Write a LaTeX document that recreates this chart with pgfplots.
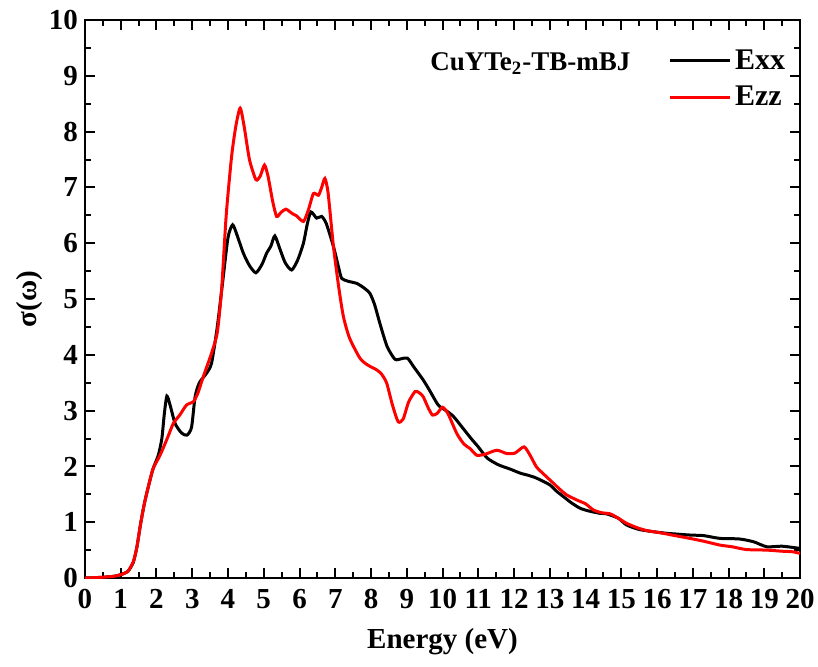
\documentclass[border=0pt]{standalone}
\usepackage{pgfplots}
\pgfplotsset{compat=1.18}
\usepackage{fontspec}
\setmainfont{Liberation Serif}

% optical conductivity, Exx component
\pgfplotstableread{
x y
0 0
0.4 0.01
0.8 0.03
1.0 0.06
1.2 0.12
1.35 0.28
1.45 0.55
1.55 0.95
1.65 1.3
1.75 1.58
1.9 1.95
2.05 2.2
2.15 2.5
2.22 2.95
2.29 3.26
2.38 3.1
2.52 2.77
2.7 2.6
2.85 2.56
2.98 2.7
3.08 3.25
3.2 3.5
3.4 3.67
3.54 3.85
3.7 4.5
3.85 5.3
4.0 6.1
4.13 6.33
4.25 6.15
4.43 5.82
4.6 5.6
4.78 5.47
4.95 5.62
5.08 5.82
5.2 5.95
5.31 6.13
5.45 5.9
5.6 5.65
5.78 5.52
5.95 5.7
6.11 6.0
6.22 6.35
6.32 6.56
6.48 6.45
6.62 6.48
6.75 6.35
6.95 5.94
7.1 5.55
7.18 5.37
7.35 5.32
7.6 5.28
7.8 5.2
7.97 5.10
8.1 4.9
8.25 4.56
8.45 4.15
8.67 3.92
8.85 3.93
9.02 3.94
9.2 3.78
9.46 3.55
9.65 3.35
9.88 3.10
10.1 3.0
10.3 2.9
10.54 2.71
10.8 2.5
11.0 2.35
11.25 2.15
11.56 2.03
11.9 1.95
12.17 1.88
12.4 1.84
12.63 1.79
13.0 1.67
13.2 1.55
13.38 1.46
13.6 1.35
13.85 1.25
14.1 1.2
14.4 1.16
14.59 1.15
14.92 1.07
15.15 0.95
15.5 0.87
15.9 0.83
16.3 0.8
16.92 0.77
17.3 0.76
17.76 0.71
18.3 0.7
18.7 0.65
19.07 0.56
19.5 0.57
20.0 0.53
}\exx

% optical conductivity, Ezz component
\pgfplotstableread{
x y
0 0
0.4 0.01
0.8 0.03
1.0 0.06
1.2 0.12
1.35 0.29
1.45 0.55
1.55 0.95
1.65 1.3
1.75 1.58
1.9 1.95
2.1 2.2
2.3 2.5
2.47 2.77
2.65 2.92
2.84 3.10
3.03 3.16
3.15 3.3
3.31 3.61
3.54 4.03
3.7 4.4
3.82 5.16
3.95 6.5
4.10 7.55
4.22 8.1
4.34 8.42
4.45 8.1
4.6 7.5
4.78 7.14
4.9 7.2
5.02 7.40
5.12 7.2
5.25 6.75
5.36 6.48
5.48 6.55
5.62 6.61
5.8 6.53
5.92 6.49
6.11 6.39
6.25 6.6
6.39 6.89
6.53 6.86
6.62 7.0
6.71 7.16
6.8 6.9
6.95 5.94
7.1 5.2
7.23 4.68
7.4 4.3
7.69 3.94
7.9 3.82
8.16 3.73
8.3 3.65
8.44 3.49
8.6 3.1
8.76 2.80
8.9 2.85
9.05 3.15
9.23 3.34
9.35 3.32
9.46 3.25
9.6 3.05
9.72 2.92
9.85 2.95
10.0 3.06
10.15 2.95
10.4 2.59
10.6 2.4
10.77 2.32
10.96 2.20
11.2 2.22
11.52 2.29
11.8 2.23
12.03 2.24
12.28 2.35
12.45 2.2
12.63 1.99
12.85 1.85
13.1 1.70
13.3 1.58
13.47 1.49
13.75 1.4
14.0 1.33
14.22 1.22
14.45 1.17
14.69 1.15
14.92 1.07
15.15 0.98
15.45 0.9
15.71 0.85
16.0 0.82
16.18 0.8
16.5 0.76
16.92 0.71
17.3 0.66
17.76 0.59
18.1 0.56
18.5 0.51
19.07 0.50
19.5 0.48
19.8 0.47
20.0 0.44
}\ezz

\begin{document}
\begin{tikzpicture}
% page frame around the plot area
\useasboundingbox (-42.5pt,-44pt) rectangle (366.5pt,289pt);
\begin{axis}[
  at={(0,0)}, anchor=south west,
  scale only axis,
  width=357.5pt, height=279pt,
  xmin=0, xmax=20, ymin=0, ymax=10,
  xtick={0,1,...,20}, ytick={0,1,...,10},
  minor x tick num=1, minor y tick num=1,
  tick align=inside,
  major tick length=5pt, minor tick length=2.8pt,
  axis line style={line width=1.2pt},
  every tick/.style={line width=1pt, black},
  /pgf/number format/assume math mode=true,
  tick label style={font=\bfseries\fontsize{14.5}{16}\selectfont},
  xticklabel style={yshift=-2pt},
  label style={font=\bfseries\fontsize{14.5}{17}\selectfont},
  xlabel={Energy (eV)},
  ylabel={σ(ω)},
  xlabel style={at={(axis description cs:0.5,-0.1147)}, anchor=center},
  ylabel style={at={(axis description cs:-0.0769,0.5)}, anchor=center},
  legend style={draw=none, fill=none, at={(axis cs:16.3,9.55)}, anchor=north west,
    font=\bfseries\fontsize{15}{17}\selectfont, row sep=3pt,
    inner sep=0pt},
  legend cell align=left,
  legend image code/.code={\draw[#1] (0pt,0pt) -- (30pt,0pt);},
]
\addplot[black, line width=1.5pt, smooth, tension=0.4] table {\exx};
\addlegendentry{Exx}
\addplot[red, line width=1.5pt, smooth, tension=0.4] table {\ezz};
\addlegendentry{Ezz}
\node[anchor=base west, font=\bfseries\fontsize{13.5}{16}\selectfont, inner sep=0pt]
  at (axis cs:9.65,9.1) {CuYTe\textsubscript{2}-TB-mBJ};
\end{axis}
\end{tikzpicture}
\end{document}
